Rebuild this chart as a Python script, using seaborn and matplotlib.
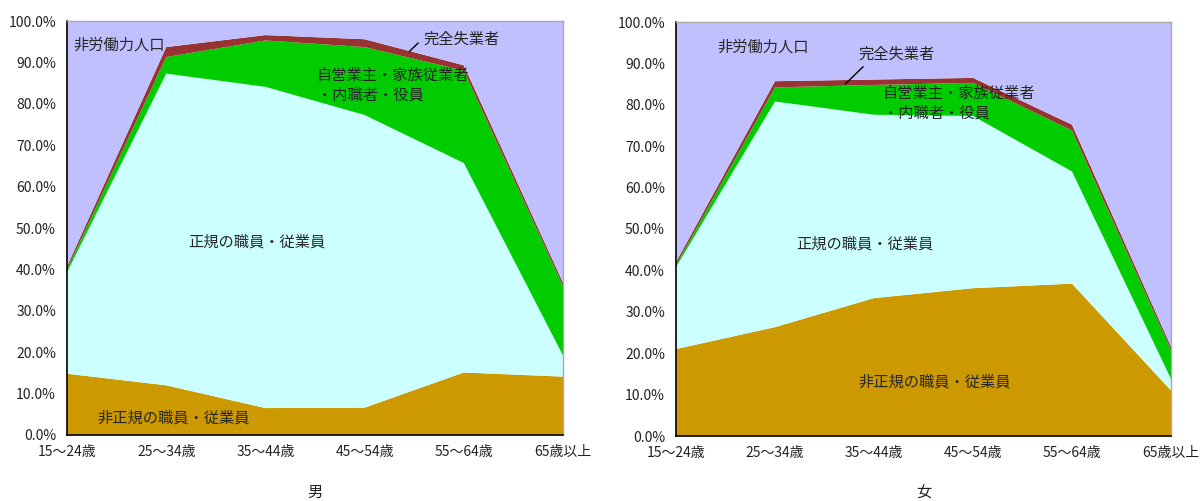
import matplotlib
matplotlib.use("Agg")
import matplotlib.pyplot as plt
import seaborn as sns
import numpy as np
from matplotlib.ticker import FuncFormatter

sns.set_theme(style="white")
plt.rcParams['font.family'] = ['Noto Sans CJK JP', 'DejaVu Sans']

categories = ["15～24歳", "25～34歳", "35～44歳", "45～54歳", "55～64歳", "65歳以上"]
series_names = ["非正規の職員・従業員", "正規の職員・従業員", "自営業主・家族従業者・内職者・役員", "完全失業者", "非労働力人口"]

# 男 (percent of population)
male_nonregular = [14.8, 12.0, 6.5, 6.6, 15.1, 14.1]
male_regular = [24.5, 75.3, 77.6, 70.7, 50.6, 5.1]
male_selfemp = [0.7, 4.0, 11.2, 16.4, 22.3, 16.8]
male_unemp = [0.7, 2.4, 1.3, 1.9, 1.3, 0.8]
male_notlabor = [59.3, 6.3, 3.4, 4.4, 10.7, 63.2]

# 女
female_nonregular = [21.0, 26.3, 33.3, 35.7, 36.8, 11.0]
female_regular = [19.8, 54.5, 44.3, 41.6, 27.1, 2.8]
female_selfemp = [0.5, 3.4, 7.2, 8.0, 9.9, 7.0]
female_unemp = [0.7, 1.5, 1.3, 1.2, 1.4, 0.8]
female_notlabor = [58.0, 14.3, 13.9, 13.5, 24.8, 78.4]

colors = ["#CC9900", "#CCFFFF", "#00CC00", "#993333", "#C0C0FF"]

fig = plt.figure(figsize=(12.03, 5.01), dpi=100)
ax1 = fig.add_axes([67/1203, 1-435/501, (563-67)/1203, (435-21)/501])
ax2 = fig.add_axes([676/1203, 1-436/501, (1171-676)/1203, (436-22)/501])

def draw(ax, layers, title):
    x = np.arange(len(categories))
    ax.stackplot(x, *layers, colors=colors, linewidth=0, edgecolor='none')
    ax.set_xlim(0, len(categories)-1)
    ax.set_ylim(0, 100)
    ax.set_xticks(x)
    ax.set_xticklabels(categories, fontsize=10, color="#222222")
    ax.set_yticks(np.arange(0, 101, 10))
    ax.yaxis.set_major_formatter(FuncFormatter(lambda v, p: f"{v:.1f}%"))
    ax.tick_params(axis='y', length=0, pad=8, labelsize=10, labelcolor="#222222")
    ax.tick_params(axis='x', direction='in', length=4, width=1, color='black', pad=7)
    for s in ['left', 'bottom']:
        ax.spines[s].set_color('black')
        ax.spines[s].set_linewidth(1.2)
    for s in ['top', 'right']:
        ax.spines[s].set_color('#A8A8A8')
        ax.spines[s].set_linewidth(1.0)
    ax.set_xlabel(title, fontsize=11, labelpad=18, color="#222222")
    ax.grid(False)

draw(ax1, [male_nonregular, male_regular, male_selfemp, male_unemp, male_notlabor], "男")
draw(ax2, [female_nonregular, female_regular, female_selfemp, female_unemp, female_notlabor], "女")

fs = 11
# 男 annotations
ax1.text(0.06, 94.2, "非労働力人口", fontsize=fs, ha='left', va='center')
ax1.text(3.98, 95.6, "完全失業者", fontsize=fs, ha='center', va='center')
ax1.plot([3.45, 3.54], [92.6, 94.7], color='black', linewidth=1)
ax1.text(2.52, 84.5, "自営業主・家族従業者\n・内職者・役員", fontsize=fs, ha='left', va='center', linespacing=1.15)
ax1.text(1.91, 46.6, "正規の職員・従業員", fontsize=fs, ha='center', va='center')
ax1.text(1.08, 4.2, "非正規の職員・従業員", fontsize=fs, ha='center', va='center')

# 女 annotations
ax2.text(0.42, 94.0, "非労働力人口", fontsize=fs, ha='left', va='center')
ax2.text(2.23, 92.3, "完全失業者", fontsize=fs, ha='center', va='center')
ax2.plot([1.71, 1.89], [85.0, 89.2], color='black', linewidth=1)
ax2.text(2.09, 80.4, "自営業主・家族従業者\n・内職者・役員", fontsize=fs, ha='left', va='center', linespacing=1.15)
ax2.text(1.91, 46.4, "正規の職員・従業員", fontsize=fs, ha='center', va='center')
ax2.text(2.61, 13.0, "非正規の職員・従業員", fontsize=fs, ha='center', va='center')

fig.savefig("out.png", dpi=100)
